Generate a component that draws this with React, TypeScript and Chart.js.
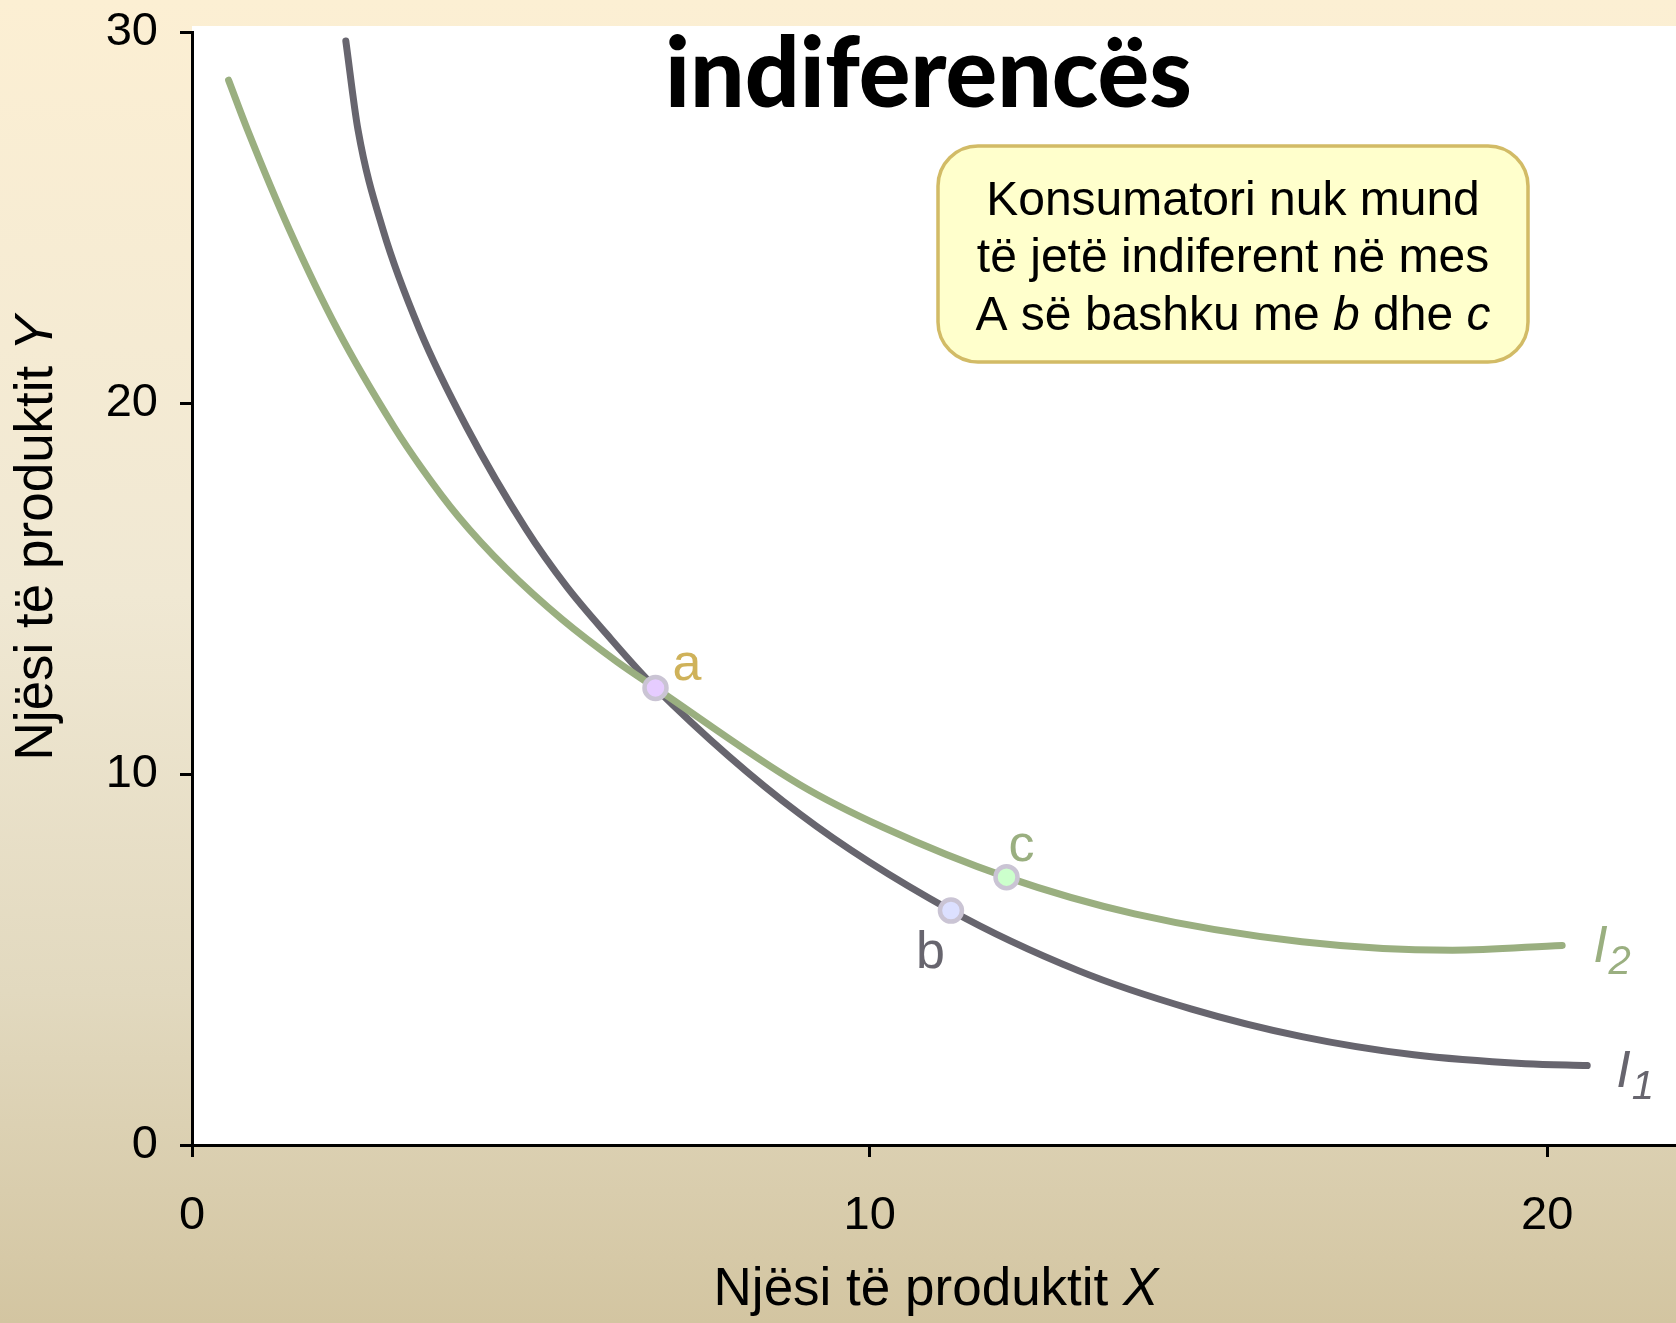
import React, { useEffect, useRef } from 'react';
import { Chart, registerables } from 'chart.js';

Chart.register(...registerables);

// ---------------- data ----------------
const I1_X = [2.27, 2.45, 2.82, 3.36, 4.05, 4.93, 5.53, 6.11, 6.84, 8.97, 11.2, 13.08, 14.74, 16.38, 18.03, 19.68, 20.59];
const I1_Y = [29.76, 27.36, 24.66, 21.97, 19.36, 16.6, 15.05, 13.79, 12.32, 8.92, 6.32, 4.7, 3.67, 2.92, 2.43, 2.19, 2.14];

const I2_X = [0.54, 0.82, 1.44, 2.15, 2.98, 3.38, 3.93, 4.64, 5.46, 6.27, 6.84, 8.97, 10.19, 12.02, 13.91, 16.38, 18.6, 20.22];
const I2_Y = [28.7, 27.36, 24.66, 21.97, 19.36, 18.27, 16.94, 15.53, 14.17, 13.03, 12.32, 9.71, 8.57, 7.22, 6.23, 5.48, 5.25, 5.38];

const POINT_NAMES = ['a', 'b', 'c'];
const POINT_X = [6.84, 11.2, 12.02];
const POINT_Y = [12.32, 6.32, 7.22];

const X_TICKS = [0, 10, 20];
const Y_TICKS = [0, 10, 20, 30];
const X_MAX = 21.9;
const Y_MAX = 30;

const TITLE = 'indiferencës';
const NOTE_LINES: [string, boolean][][] = [
  [['Konsumatori nuk mund', false]],
  [['të jetë indiferent në mes', false]],
  [['A së bashku me ', false], ['b', true], [' dhe ', false], ['c', true]],
];
const X_TITLE: [string, boolean][] = [['Njësi të produktit ', false], ['X', true]];
const Y_TITLE: [string, boolean][] = [['Njësi të produktit ', false], ['Y', true]];
const CURVE_NAMES = ['I', 'I'];
const CURVE_SUBS = ['1', '2'];

// ---------------- styles ----------------
const W = 1676;
const H = 1323;
const SANS = "'Liberation Sans', Arial, sans-serif";
const DARK = '#67656E';
const GREEN = '#9AAF80';
const GOLD = '#CFB25A';
const POINT_FILLS = ['#E6CCFF', '#DCE0FF', '#CCFFCC'];
const LABEL_COLORS = [GOLD, DARK, GREEN];
const LABEL_OFFSETS = [[17, -8], [-35, 57], [2, -16]];
const CURVE_LABEL_OFFSETS = [[29, 21], [31, 17]];

function drawSegments(ctx: CanvasRenderingContext2D, segs: [string, boolean][], cx: number, y: number, size: number) {
  const fontFor = (it: boolean) => `${it ? 'italic ' : ''}${size}px ${SANS}`;
  let total = 0;
  const widths = segs.map(([t, it]) => {
    ctx.font = fontFor(it);
    const w = ctx.measureText(t).width;
    total += w;
    return w;
  });
  let x = cx - total / 2;
  ctx.textAlign = 'left';
  segs.forEach(([t, it], i) => {
    ctx.font = fontFor(it);
    ctx.fillText(t, x, y);
    x += widths[i];
  });
}

const decorPlugin = {
  id: 'decor',
  beforeDraw(chart: any) {
    const { ctx, chartArea } = chart;
    ctx.save();
    const g = ctx.createLinearGradient(0, 0, 0, H);
    g.addColorStop(0, '#FCEFD3');
    g.addColorStop(0.45, '#F0E8D3');
    g.addColorStop(0.75, '#E2D9BF');
    g.addColorStop(1, '#D3C5A1');
    ctx.fillStyle = g;
    ctx.fillRect(0, 0, W, H);
    ctx.fillStyle = '#FFFFFF';
    ctx.fillRect(chartArea.left, 26, W - chartArea.left, chartArea.bottom - 26);
    ctx.restore();
  },
  afterDraw(chart: any) {
    const { ctx } = chart;
    const xs = chart.scales.x;
    const ys = chart.scales.y;
    ctx.save();
    ctx.textBaseline = 'alphabetic';

    // title
    ctx.fillStyle = '#000';
    ctx.font = `900 100px Lato, 'Open Sans', sans-serif`;
    const tw = ctx.measureText(TITLE).width;
    const tsize = (100 * 527) / tw;
    ctx.font = `900 ${tsize}px Lato, 'Open Sans', sans-serif`;
    ctx.textAlign = 'center';
    ctx.fillText(TITLE, 928.5, 107);

    // note box
    const bx = 938, by = 146, bw = 590, bh = 216, r = 40;
    ctx.beginPath();
    ctx.moveTo(bx + r, by);
    ctx.lineTo(bx + bw - r, by);
    ctx.arcTo(bx + bw, by, bx + bw, by + r, r);
    ctx.lineTo(bx + bw, by + bh - r);
    ctx.arcTo(bx + bw, by + bh, bx + bw - r, by + bh, r);
    ctx.lineTo(bx + r, by + bh);
    ctx.arcTo(bx, by + bh, bx, by + bh - r, r);
    ctx.lineTo(bx, by + r);
    ctx.arcTo(bx, by, bx + r, by, r);
    ctx.closePath();
    ctx.fillStyle = '#FFFFCC';
    ctx.fill();
    ctx.lineWidth = 3.5;
    ctx.strokeStyle = '#D2BB66';
    ctx.stroke();
    ctx.fillStyle = '#000';
    const baselines = [215, 272, 330];
    NOTE_LINES.forEach((segs, i) => drawSegments(ctx, segs, bx + bw / 2, baselines[i], 48));

    // axis titles
    drawSegments(ctx, X_TITLE, 936, 1305, 53);
    ctx.save();
    ctx.translate(52, 538);
    ctx.rotate(-Math.PI / 2);
    drawSegments(ctx, Y_TITLE, 0, 0, 53);
    ctx.restore();

    // point labels
    ctx.textAlign = 'left';
    ctx.font = `52px ${SANS}`;
    POINT_NAMES.forEach((n, i) => {
      const px = xs.getPixelForValue(POINT_X[i]);
      const py = ys.getPixelForValue(POINT_Y[i]);
      ctx.fillStyle = LABEL_COLORS[i];
      ctx.fillText(n, px + LABEL_OFFSETS[i][0], py + LABEL_OFFSETS[i][1]);
    });

    // curve labels
    const curves = [[I1_X, I1_Y, DARK], [I2_X, I2_Y, GREEN]] as const;
    curves.forEach(([cx, cy, col], i) => {
      const px = xs.getPixelForValue(cx[cx.length - 1]) + CURVE_LABEL_OFFSETS[i][0];
      const py = ys.getPixelForValue(cy[cy.length - 1]) + CURVE_LABEL_OFFSETS[i][1];
      ctx.fillStyle = col as string;
      ctx.font = `italic 52px ${SANS}`;
      ctx.fillText(CURVE_NAMES[i], px, py);
      const w = ctx.measureText(CURVE_NAMES[i]).width;
      ctx.font = `italic 40px ${SANS}`;
      ctx.fillText(CURVE_SUBS[i], px + w + 1, py + 12);
    });

    ctx.restore();
  },
};

export default function App() {
  const ref = useRef<HTMLCanvasElement>(null);

  useEffect(() => {
    document.body.style.margin = '0';
    const tickFont = { family: SANS, size: 47 };
    const grid = {
      display: true,
      drawOnChartArea: false,
      drawTicks: true,
      tickLength: 12,
      tickWidth: 3,
      tickColor: '#000',
    };
    const border = { display: true, color: '#000', width: 3 };
    const chart = new Chart(ref.current as HTMLCanvasElement, {
      type: 'scatter',
      data: {
        datasets: [
          {
            label: 'points',
            data: POINT_X.map((x, i) => ({ x, y: POINT_Y[i] })),
            pointRadius: 11,
            pointBorderWidth: 4.5,
            pointBackgroundColor: POINT_FILLS,
            pointBorderColor: '#CAC4D4',
            showLine: false,
            order: 0,
          },
          {
            label: 'I2',
            data: I2_X.map((x, i) => ({ x, y: I2_Y[i] })),
            showLine: true,
            borderColor: GREEN,
            borderWidth: 7,
            borderCapStyle: 'round',
            pointRadius: 0,
            cubicInterpolationMode: 'monotone',
            order: 1,
          },
          {
            label: 'I1',
            data: I1_X.map((x, i) => ({ x, y: I1_Y[i] })),
            showLine: true,
            borderColor: DARK,
            borderWidth: 7,
            borderCapStyle: 'round',
            pointRadius: 0,
            cubicInterpolationMode: 'monotone',
            order: 2,
          },
        ],
      },
      options: {
        responsive: false,
        animation: false,
        devicePixelRatio: 1,
        layout: { autoPadding: false, padding: { top: 32, right: 0, left: 0, bottom: 0 } },
        plugins: { legend: { display: false }, tooltip: { enabled: false } },
        scales: {
          x: {
            type: 'linear',
            min: 0,
            max: X_MAX,
            afterBuildTicks: (s: any) => {
              s.ticks = X_TICKS.map((v) => ({ value: v }));
            },
            afterFit: (s: any) => {
              s.height = H - 1145;
              s.paddingLeft = 0;
              s.paddingRight = 0;
              s.paddingTop = 0;
              s.paddingBottom = 0;
            },
            ticks: { font: tickFont, color: '#000', padding: 31, maxRotation: 0, autoSkip: false },
            grid,
            border,
          },
          y: {
            type: 'linear',
            min: 0,
            max: Y_MAX,
            afterBuildTicks: (s: any) => {
              s.ticks = Y_TICKS.map((v) => ({ value: v }));
            },
            afterFit: (s: any) => {
              s.width = 192;
              s.paddingLeft = 0;
              s.paddingRight = 0;
              s.paddingTop = 0;
              s.paddingBottom = 0;
            },
            ticks: { font: tickFont, color: '#000', padding: 22, autoSkip: false },
            grid,
            border,
          },
        },
      } as any,
      plugins: [decorPlugin],
    });
    return () => chart.destroy();
  }, []);

  return (
    <div style={{ width: W, height: H }}>
      <canvas ref={ref} width={W} height={H} style={{ display: 'block', width: W, height: H }} />
    </div>
  );
}
